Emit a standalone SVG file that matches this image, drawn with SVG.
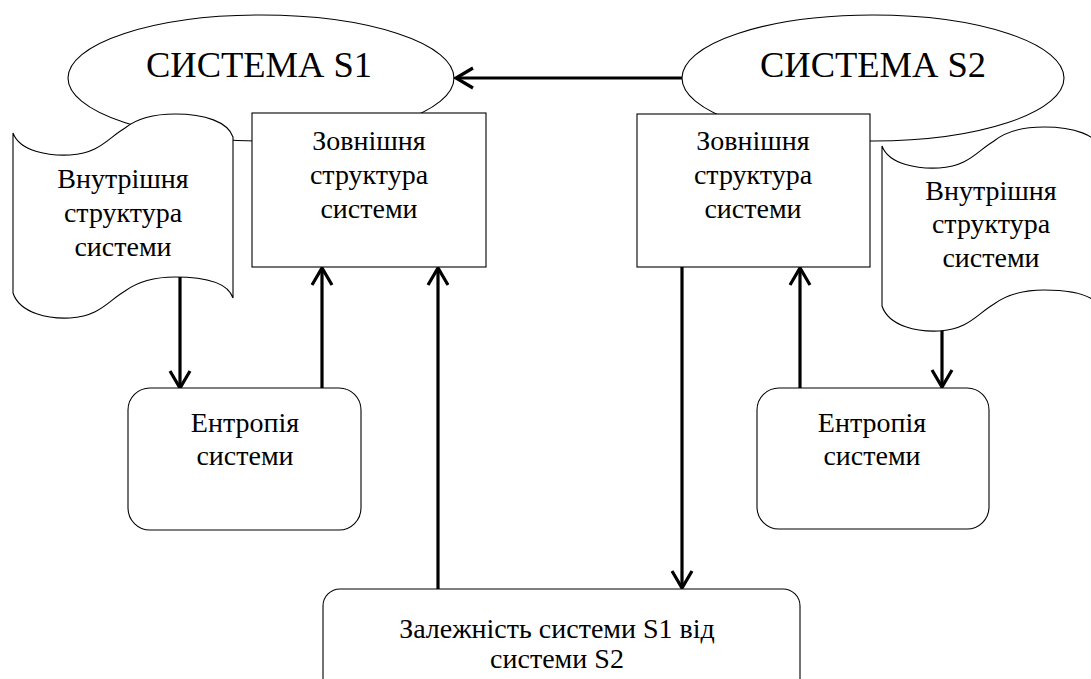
<svg xmlns="http://www.w3.org/2000/svg" width="1091" height="679" viewBox="0 0 1091 679">
<defs>
<style>
.shape{fill:#fff;stroke:#000;stroke-width:1.1}
.t{font-family:'Liberation Serif','Times New Roman',serif;font-size:28px;fill:#000;text-anchor:middle}
.title{font-family:'Liberation Serif','Times New Roman',serif;font-size:36.5px;fill:#000;text-anchor:middle}
.conn{fill:none;stroke:#000;stroke-width:3.2}
</style>
<marker id="arr" markerUnits="userSpaceOnUse" markerWidth="40" markerHeight="40" viewBox="-20 -20 40 40" refX="0" refY="0" orient="auto">
<path d="M-17,-10 L0,0 L-17,10" fill="none" stroke="#000" stroke-width="3.2" stroke-linejoin="miter"/>
</marker>
<path id="tape" d="M13,133 C20,152 50,156 70,155 C100,153 108,138 125,128 C140,116 160,114 175,114 C205,114 228,122 233,137 L233,298 C228,283 205,277 175,277 C160,277 140,280 125,291 C108,301 100,316 70,318 C50,319 20,314 13,293 Z"/>
</defs>
<rect width="1091" height="679" fill="#fff"/>

<g id="system-s1">
<ellipse class="shape" cx="261" cy="78" rx="193" ry="63"/>
<text class="title" x="259" y="77">СИСТЕМА S1</text>
</g>
<g id="system-s2">
<ellipse class="shape" cx="873" cy="78" rx="191" ry="63"/>
<text class="title" x="873" y="77">СИСТЕМА S2</text>
</g>

<g id="connectors">
<path class="conn" d="M682,78 L456,78" marker-end="url(#arr)"/>
<path class="conn" d="M180,277 L180,388" marker-end="url(#arr)"/>
<path class="conn" d="M322,388 L322,268" marker-end="url(#arr)"/>
<path class="conn" d="M438,589 L438,268" marker-end="url(#arr)"/>
<path class="conn" d="M682,267 L682,588" marker-end="url(#arr)"/>
<path class="conn" d="M800,388 L800,268" marker-end="url(#arr)"/>
<path class="conn" d="M942,330 L942,387" marker-end="url(#arr)"/>
</g>

<g id="internal-s1">
<use href="#tape" class="shape"/>
<text class="t" x="123" y="188">Внутрішня</text>
<text class="t" x="123" y="222">структура</text>
<text class="t" x="123" y="256">системи</text>
</g>
<g id="external-s1">
<rect class="shape" x="252" y="113" width="234" height="154"/>
<text class="t" x="369" y="150">Зовнішня</text>
<text class="t" x="369" y="184">структура</text>
<text class="t" x="369" y="218">системи</text>
</g>
<g id="external-s2">
<rect class="shape" x="637" y="114" width="233" height="153"/>
<text class="t" x="753" y="150">Зовнішня</text>
<text class="t" x="753" y="184">структура</text>
<text class="t" x="753" y="218">системи</text>
</g>
<g id="internal-s2">
<use href="#tape" class="shape" transform="translate(869,13)"/>
<text class="t" x="991" y="200">Внутрішня</text>
<text class="t" x="991" y="233">структура</text>
<text class="t" x="991" y="267">системи</text>
</g>
<g id="entropy-s1">
<rect class="shape" x="128" y="388" width="233" height="142" rx="22" ry="22"/>
<text class="t" x="245" y="432">Ентропія</text>
<text class="t" x="245" y="465">системи</text>
</g>
<g id="entropy-s2">
<rect class="shape" x="757" y="388" width="232" height="141" rx="22" ry="22"/>
<text class="t" x="872" y="432">Ентропія</text>
<text class="t" x="872" y="465">системи</text>
</g>
<g id="dependency">
<rect class="shape" x="323" y="589" width="477" height="120" rx="17" ry="17"/>
<text class="t" x="557" y="638">Залежність системи S1 від</text>
<text class="t" x="557" y="668">системи S2</text>
</g>
</svg>
